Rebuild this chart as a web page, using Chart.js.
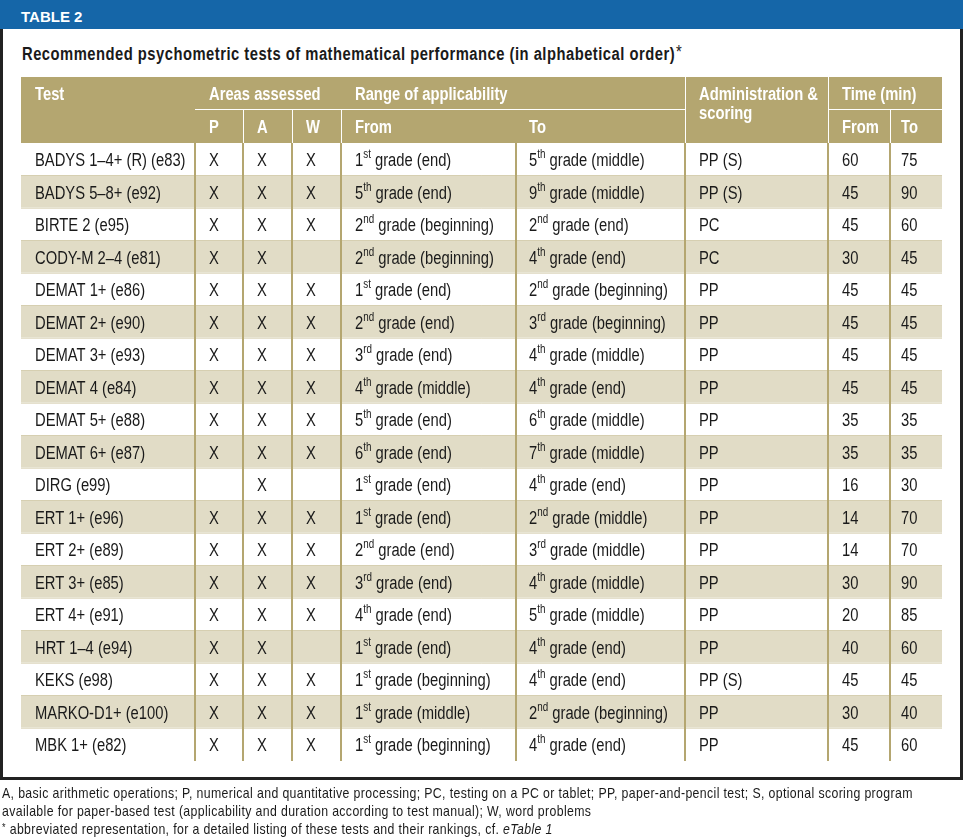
<!DOCTYPE html>
<html>
<head>
<meta charset="utf-8">
<title>Table 2</title>
<script src="https://cdn.jsdelivr.net/npm/chart.js@4.4.1/dist/chart.umd.min.js"></script>
<style>
  html, body { margin: 0; padding: 0; background: #fff; }
  body { width: 963px; height: 839px; position: relative; overflow: hidden; font-family: "Liberation Sans", Arial, sans-serif; color: #1a1a1a; }
  #banner { position: absolute; left: 0; top: 0; width: 963px; height: 29px; background: #1566a8; }
  #banner span { position: absolute; left: 21px; top: 7px; color: #fff; font-weight: bold; font-size: 15px; line-height: 20px; }
  #frame { position: absolute; left: 0; top: 29px; width: 957px; height: 748px; border: 3px solid #222; border-top: none; }
  #title { position: absolute; left: 22px; top: 44px; font-weight: bold; font-size: 18px; letter-spacing: 0.6px; line-height: 20px; white-space: nowrap; transform-origin: 0 0; }
  #title .star { font-weight: normal; position: relative; top: -2px; margin-left: 1px; }
  #notes { position: absolute; left: 2px; top: 784px; font-size: 15px; letter-spacing: 0.45px; line-height: 18px; }
  #notes div { white-space: nowrap; transform-origin: 0 0; }
  #notes .star { font-size: 11px; position: relative; top: -3px; }
  #tableChart { position: absolute; left: 0; top: 0; }
</style>
</head>
<body>
<div id="banner"><span>TABLE 2</span></div>
<div id="frame"></div>
<div id="title" class="n">Recommended psychometric tests of mathematical performance (in alphabetical order)<span class="star">*</span></div>
<canvas id="tableChart" width="963" height="839"></canvas>
<div id="notes">
  <div class="n">A, basic arithmetic operations; P, numerical and quantitative processing; PC, testing on a PC or tablet; PP, paper-and-pencil test; S, optional scoring program</div>
  <div class="n">available for paper-based test (applicability and duration according to test manual); W, word problems</div>
  <div class="n"><span class="star">*</span> abbreviated representation, for a detailed listing of these tests and their rankings, cf. <i>eTable 1</i></div>
</div>
<script>
// table data (one entry per test row)
const tests = ['BADYS 1–4+ (R) (e83)', 'BADYS 5–8+ (e92)', 'BIRTE 2 (e95)', 'CODY-M 2–4 (e81)',
    'DEMAT 1+ (e86)', 'DEMAT 2+ (e90)', 'DEMAT 3+ (e93)', 'DEMAT 4 (e84)', 'DEMAT 5+ (e88)',
    'DEMAT 6+ (e87)', 'DIRG (e99)', 'ERT 1+ (e96)', 'ERT 2+ (e89)', 'ERT 3+ (e85)', 'ERT 4+ (e91)',
    'HRT 1–4 (e94)', 'KEKS (e98)', 'MARKO-D1+ (e100)', 'MBK 1+ (e82)'];
const assessP = [1, 1, 1, 1, 1, 1, 1, 1, 1, 1, 0, 1, 1, 1, 1, 1, 1, 1, 1];
const assessA = [1, 1, 1, 1, 1, 1, 1, 1, 1, 1, 1, 1, 1, 1, 1, 1, 1, 1, 1];
const assessW = [1, 1, 1, 0, 1, 1, 1, 1, 1, 1, 0, 1, 1, 1, 1, 0, 1, 1, 1];
const fromGrade = [1, 5, 2, 2, 1, 2, 3, 4, 5, 6, 1, 1, 2, 3, 4, 1, 1, 1, 1];
const fromStage = ['end', 'end', 'beginning', 'beginning', 'end', 'end', 'end', 'middle', 'end', 'end',
    'end', 'end', 'end', 'end', 'end', 'end', 'beginning', 'middle', 'beginning'];
const toGrade = [5, 9, 2, 4, 2, 3, 4, 4, 6, 7, 4, 2, 3, 4, 5, 4, 4, 2, 4];
const toStage = ['middle', 'middle', 'end', 'end', 'beginning', 'beginning', 'middle', 'end', 'middle', 'middle',
    'end', 'middle', 'middle', 'middle', 'middle', 'end', 'end', 'beginning', 'end'];
const admin = ['PP (S)', 'PP (S)', 'PC', 'PC', 'PP', 'PP', 'PP', 'PP', 'PP', 'PP',
    'PP', 'PP', 'PP', 'PP', 'PP', 'PP', 'PP (S)', 'PP', 'PP'];
const timeFrom = [60, 45, 45, 30, 45, 45, 45, 45, 35, 35, 16, 14, 14, 30, 20, 40, 45, 30, 45];
const timeTo = [75, 90, 60, 45, 45, 45, 45, 45, 35, 35, 30, 70, 70, 90, 85, 60, 45, 40, 60];

// header labels
const headRow1 = ['Test', 'Areas assessed', 'Range of applicability', 'Administration &', 'Time (min)'];
const headRow2 = ['P', 'A', 'W', 'From', 'To', 'From', 'To'];

// layout of the table (x scale units = pixels from table left edge)
const TABLE_W = 921;
const COL_START = [0, 174, 222, 271, 320, 495, 664, 807, 869];
const COL_PAD = [14, 14, 14, 14, 14, 13, 14, 14, 11];
const HEADER_H = 66;
const HEADER_ROW1 = 32;
const KHAKI = '#b4a670';
const BEIGE = '#e1dcc6';
const INK = '#1a1a1a';

// use a narrow face if installed, otherwise squeeze the regular one
function hasFont(name) {
    const c = document.createElement('canvas').getContext('2d');
    const s = 'abcdefghijklmnopqrstuvwxyz0123456789';
    c.font = '40px monospace';
    const w1 = c.measureText(s).width;
    c.font = `40px "${name}", monospace`;
    return c.measureText(s).width !== w1;
}
const NARROW = hasFont('Liberation Sans Narrow');
const FAMILY = NARROW ? '"Liberation Sans Narrow", sans-serif' : '"Liberation Sans", Arial, sans-serif';
const SX = NARROW ? 1 : 0.82;

document.querySelectorAll('.n').forEach(el => {
    el.style.fontFamily = FAMILY;
    if (SX !== 1) el.style.transform = `scaleX(${SX})`;
});

function ordinal(n) {
    if (n === 1) return 'st';
    if (n === 2) return 'nd';
    if (n === 3) return 'rd';
    return 'th';
}

function drawText(ctx, s, x, y, size, bold, color) {
    ctx.save();
    ctx.font = `${bold ? 'bold ' : ''}${size}px ${FAMILY}`;
    ctx.fillStyle = color;
    ctx.textBaseline = 'alphabetic';
    ctx.translate(x, y);
    ctx.scale(SX, 1);
    ctx.fillText(s, 0, 0);
    const w = ctx.measureText(s).width * SX;
    ctx.restore();
    return w;
}

const tablePlugin = {
    id: 'tableCells',
    beforeDatasetsDraw(chart) {
        const { ctx, chartArea } = chart;
        const xs = chart.scales.x;
        const left = xs.getPixelForValue(0);
        const right = xs.getPixelForValue(TABLE_W);
        const hTop = chartArea.top - HEADER_H;
        const mid = hTop + HEADER_ROW1;
        const colX = c => xs.getPixelForValue(COL_START[c]);

        ctx.save();
        ctx.fillStyle = KHAKI;
        ctx.fillRect(left, hTop, right - left, HEADER_H);

        // white rules inside the header
        ctx.strokeStyle = '#ffffff';
        ctx.lineWidth = 1;
        ctx.beginPath();
        ctx.moveTo(colX(1), mid + 0.5); ctx.lineTo(colX(6), mid + 0.5);
        ctx.moveTo(colX(7), mid + 0.5); ctx.lineTo(right, mid + 0.5);
        [6, 7].forEach(c => { ctx.moveTo(colX(c) + 0.5, hTop); ctx.lineTo(colX(c) + 0.5, chartArea.top); });
        [2, 3, 4, 8].forEach(c => { ctx.moveTo(colX(c) + 0.5, mid); ctx.lineTo(colX(c) + 0.5, chartArea.top); });
        ctx.stroke();

        // header labels
        const b1 = hTop + 23;
        const b2 = mid + 24;
        const row1Cols = [0, 1, 4, 6, 7];
        headRow1.forEach((t, k) => {
            const c = row1Cols[k];
            drawText(ctx, t, colX(c) + COL_PAD[c], b1, 18, true, '#ffffff');
        });
        drawText(ctx, 'scoring', colX(6) + COL_PAD[6], b1 + 19, 18, true, '#ffffff');
        const row2Cols = [1, 2, 3, 4, 5, 7, 8];
        headRow2.forEach((t, k) => {
            const c = row2Cols[k];
            drawText(ctx, t, colX(c) + COL_PAD[c], b2, 18, true, '#ffffff');
        });
        ctx.restore();
    },
    afterDraw(chart) {
        const { ctx } = chart;
        const xs = chart.scales.x;
        const ys = chart.scales.y;
        const cellX = c => xs.getPixelForValue(COL_START[c]) + COL_PAD[c];

        function grade(c, g, stage, y) {
            let x = cellX(c);
            x += drawText(ctx, String(g), x, y, 18, false, INK);
            x += drawText(ctx, ordinal(g), x, y - 8, 12, false, INK);
            drawText(ctx, ` grade (${stage})`, x, y, 18, false, INK);
        }

        tests.forEach((name, i) => {
            const y = ys.getPixelForValue(i) + 7;
            drawText(ctx, name, cellX(0), y, 18, false, INK);
            if (assessP[i]) drawText(ctx, 'X', cellX(1), y, 18, false, INK);
            if (assessA[i]) drawText(ctx, 'X', cellX(2), y, 18, false, INK);
            if (assessW[i]) drawText(ctx, 'X', cellX(3), y, 18, false, INK);
            grade(4, fromGrade[i], fromStage[i], y);
            grade(5, toGrade[i], toStage[i], y);
            drawText(ctx, admin[i], cellX(6), y, 18, false, INK);
            drawText(ctx, String(timeFrom[i]), cellX(7), y, 18, false, INK);
            drawText(ctx, String(timeTo[i]), cellX(8), y, 18, false, INK);
        });
    }
};

const ctx = document.getElementById('tableChart').getContext('2d');
const tableChart = new Chart(ctx, {
    type: 'bar',
    data: {
        labels: tests,
        datasets: [{
            // one band per row, the full width of the table
            data: tests.map(() => [0, TABLE_W]),
            backgroundColor: tests.map((t, i) => i % 2 ? BEIGE : '#ffffff'),
            borderWidth: 0,
            barPercentage: 1,
            categoryPercentage: 1
        }]
    },
    options: {
        indexAxis: 'y',
        responsive: false,
        animation: false,
        devicePixelRatio: 1,
        layout: { padding: { left: 21, right: 21, top: 143, bottom: 78.5 } },
        plugins: { legend: { display: false }, tooltip: { enabled: false } },
        events: [],
        scales: {
            x: {
                type: 'linear',
                min: 0,
                max: TABLE_W,
                afterBuildTicks: scale => {
                    scale.ticks = COL_START.slice(1).map(v => ({ value: v }));
                },
                ticks: { display: false },
                border: { display: false },
                // column rules drawn on top of the row bands
                grid: { z: 1, drawTicks: false, color: KHAKI, lineWidth: 2 }
            },
            y: {
                type: 'category',
                ticks: { display: false },
                border: { display: false },
                grid: {
                    z: 1,
                    drawTicks: false,
                    offset: true,
                    lineWidth: 1,
                    color: c => (c.type !== 'tick' || c.index === 0) ? 'rgba(0,0,0,0)' : 'rgba(180,166,112,0.35)'
                }
            }
        }
    },
    plugins: [tablePlugin]
});
</script>
</body>
</html>
